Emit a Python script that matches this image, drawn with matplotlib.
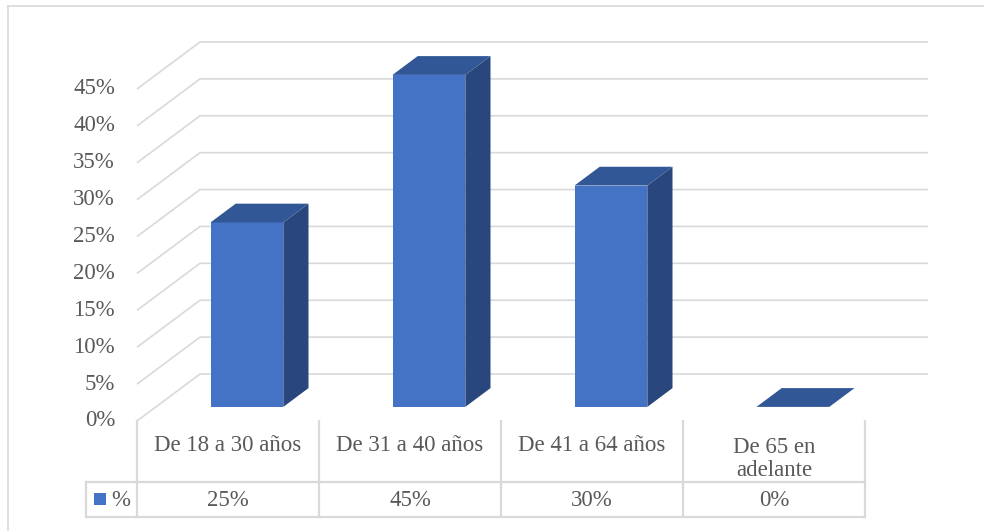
import numpy as np
import matplotlib
matplotlib.use('Agg')
import matplotlib.pyplot as plt
from matplotlib.patches import Polygon, Rectangle
from matplotlib.lines import Line2D
from matplotlib.transforms import blended_transform_factory

# data
categories = ['De 18 a 30 años', 'De 31 a 40 años', 'De 41 a 64 años', 'De 65 en\nadelante']
values = [25, 45, 30, 0]
value_labels = ['25%', '45%', '30%', '0%']
series_name = '%'
yticks = list(range(0, 50, 5))

W, H = 984, 531
GRID = '#d9d9d9'
TXT = '#595959'
FRONT = '#4472C4'
TOP = '#325796'
SIDE = '#29477D'

plt.rcParams['font.family'] = ['Liberation Serif', 'DejaVu Serif']
FS = 16.5

fig = plt.figure(figsize=(W / 100, H / 100), dpi=100)

def fx(px):
    return px / W

def fy(py):
    # pixel measured from top -> figure fraction
    return 1 - py / H

# front plane of the plot area
ax = fig.add_axes([fx(137), fy(421), fx(865) - fx(137), fy(89) - fy(421)])
ax.set_xlim(-0.5, len(categories) - 0.5)
ax.set_ylim(0, 45)
ax.axis('off')

# depth offset (in data units) of the back wall
DX = 63 / 182
DY = 47 / (332 / 45)
d0, d1 = 0.3, 0.7   # bar front / back depth
bw = 0.40           # bar width

x0, x1 = -0.5, len(categories) - 0.5

# gridlines: diagonal on the side wall + line on the back wall
for v in yticks:
    ax.plot([x0, x0 + DX, x1 + DX], [v, v + DY, v + DY], color=GRID, lw=1.2,
            clip_on=False, zorder=1, solid_capstyle='butt')
    ax.text(fx(115), v, f'{v}%', transform=blended_transform_factory(fig.transFigure, ax.transData),
            ha='right', va='center', fontsize=FS, color=TXT)

# bars
for i, v in enumerate(values):
    xl = i - bw / 2 + d0 * DX
    xr = i + bw / 2 + d0 * DX
    yb = d0 * DY
    ddx = (d1 - d0) * DX
    ddy = (d1 - d0) * DY
    top = [(xl, yb + v), (xr, yb + v), (xr + ddx, yb + v + ddy), (xl + ddx, yb + v + ddy)]
    if v > 0:
        ax.add_patch(Rectangle((xl, yb), xr - xl, v, facecolor=FRONT, edgecolor='none',
                               clip_on=False, zorder=3))
        side = [(xr, yb), (xr + ddx, yb + ddy), (xr + ddx, yb + v + ddy), (xr, yb + v)]
        ax.add_patch(Polygon(side, closed=True, facecolor=SIDE, edgecolor='none',
                             clip_on=False, zorder=3))
    ax.add_patch(Polygon(top, closed=True, facecolor=TOP, edgecolor='none',
                         clip_on=False, zorder=3))

# data table below the plot
tr = blended_transform_factory(ax.transData, fig.transFigure)
leg_x = x0 - 51 / 182
for k in range(len(categories) + 1):
    fig.add_artist(Line2D([x0 + k, x0 + k], [fy(421), fy(517)], transform=tr, color=GRID, lw=1.6))
for py in (482, 517):
    fig.add_artist(Line2D([leg_x, x1], [fy(py), fy(py)], transform=tr, color=GRID, lw=1.6))
fig.add_artist(Line2D([leg_x, leg_x], [fy(482), fy(517)], transform=tr, color=GRID, lw=1.6))

for i, (c, lab) in enumerate(zip(categories, value_labels)):
    # baseline alignment uses the last line, so push wrapped labels down
    nl = c.count('\n')
    ax.text(i, fy(451 + 25 * nl), c, transform=tr, ha='center', va='baseline',
            fontsize=FS, color=TXT, linespacing=1.1)
    ax.text(i, fy(500), lab, transform=tr, ha='center', va='center', fontsize=FS, color=TXT)

fig.add_artist(Rectangle((fx(94), fy(505)), fx(12), fy(493) - fy(505), facecolor=FRONT,
                         edgecolor='none', transform=fig.transFigure))
fig.text(fx(111), fy(500), series_name, ha='left', va='center', fontsize=FS, color=TXT)

# outer chart border (cropped on the right and bottom)
fig.add_artist(Line2D([fx(8), 1], [fy(6), fy(6)], color=GRID, lw=1.2))
fig.add_artist(Line2D([fx(8), fx(8)], [fy(6), 0], color=GRID, lw=1.2))

fig.savefig('out.png', dpi=100, facecolor='white')
